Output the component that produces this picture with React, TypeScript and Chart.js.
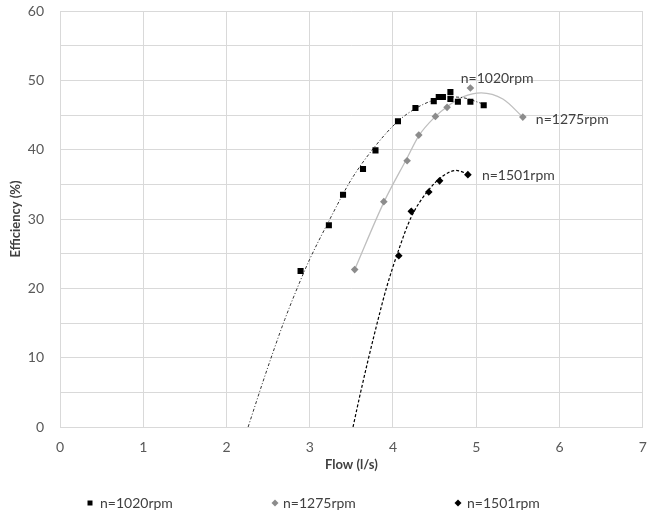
import React, { useEffect, useRef } from "react";
import { Chart, registerables } from "chart.js";

Chart.register(...registerables);

// Measured points
const series1020X = [2.89, 3.23, 3.40, 3.64, 3.79, 4.06, 4.27, 4.49, 4.55, 4.60, 4.69, 4.69, 4.78, 4.93, 5.09];
const series1020Y = [22.5, 29.1, 33.5, 37.2, 39.9, 44.1, 46.0, 47.0, 47.6, 47.6, 48.3, 47.3, 46.9, 46.9, 46.4];
const series1275X = [3.54, 3.89, 4.17, 4.31, 4.51, 4.65, 4.93, 5.56];
const series1275Y = [22.7, 32.5, 38.4, 42.1, 44.8, 46.1, 48.9, 44.7];
const series1501X = [4.07, 4.22, 4.43, 4.56, 4.90];
const series1501Y = [24.7, 31.1, 33.9, 35.5, 36.4];

// Trend curves
const trend1020X = [2.26, 2.44, 2.58, 2.70, 2.88, 3.00, 3.23, 3.50, 3.80, 4.06, 4.28, 4.48, 4.68, 4.84, 5.08];
const trend1020Y = [0, 6.6, 11.5, 15.5, 20.9, 24.2, 29.7, 35.7, 40.7, 44.1, 46.0, 47.1, 47.6, 47.5, 46.6];
const trend1275X = [3.54, 3.89, 4.17, 4.31, 4.51, 4.65, 4.84, 5.06, 5.32, 5.56];
const trend1275Y = [22.7, 32.4, 38.8, 42.0, 44.8, 46.2, 47.6, 48.2, 47.3, 44.7];
const trend1501X = [3.52, 3.60, 3.70, 3.84, 3.92, 4.07, 4.22, 4.43, 4.60, 4.76, 4.90];
const trend1501Y = [0, 4.4, 9.6, 16.4, 20.0, 25.6, 30.3, 34.2, 36.2, 37.0, 36.5];

const seriesNames = ["n=1020rpm", "n=1275rpm", "n=1501rpm"];
const xTitle = "Flow (l/s)";
const yTitle = "Efficiency (%)";

const FONT = "Lato, 'Open Sans', sans-serif";

const pts = (xs: number[], ys: number[]) => xs.map((x, i) => ({ x, y: ys[i] }));

const labelPlugin = {
  id: "seriesLabels",
  afterDatasetsDraw(chart: any) {
    const ctx = chart.ctx;
    const offsets = [
      [-23, -27],
      [13, 2],
      [14, 1],
    ];
    ctx.save();
    ctx.font = `14px ${FONT}`;
    ctx.fillStyle = "#404040";
    ctx.textAlign = "left";
    ctx.textBaseline = "middle";
    for (let i = 0; i < 3; i++) {
      const meta = chart.getDatasetMeta(i);
      const last = meta.data[meta.data.length - 1];
      ctx.fillText(seriesNames[i], last.x + offsets[i][0], last.y + offsets[i][1]);
    }
    ctx.restore();
  },
};

const legendPlugin = {
  id: "bottomLegend",
  afterDraw(chart: any) {
    const ctx = chart.ctx;
    const y = 503;
    const items = [
      { mx: 90, tx: 100, shape: "square", color: "#000000" },
      { mx: 275, tx: 283, shape: "diamond", color: "#8c8c8c" },
      { mx: 458, tx: 467, shape: "diamond", color: "#000000" },
    ];
    ctx.save();
    ctx.font = `14px ${FONT}`;
    ctx.textBaseline = "middle";
    ctx.textAlign = "left";
    items.forEach((it, i) => {
      ctx.fillStyle = it.color;
      ctx.beginPath();
      if (it.shape === "square") {
        ctx.rect(it.mx - 2.5, y - 2.5, 5, 5);
      } else {
        ctx.moveTo(it.mx - 3.5, y);
        ctx.lineTo(it.mx, y - 3.5);
        ctx.lineTo(it.mx + 3.5, y);
        ctx.lineTo(it.mx, y + 3.5);
        ctx.closePath();
      }
      ctx.fill();
      ctx.fillStyle = "#404040";
      ctx.fillText(seriesNames[i], it.tx, y);
    });
    ctx.restore();
  },
};

export default function App() {
  const ref = useRef<HTMLCanvasElement | null>(null);

  useEffect(() => {
    document.body.style.margin = "0";
    const canvas = ref.current;
    if (!canvas) return;
    const chart = new Chart(canvas, {
      type: "scatter",
      data: {
        datasets: [
          {
            label: seriesNames[0],
            data: pts(series1020X, series1020Y),
            pointStyle: "rect",
            pointRadius: 4.3,
            backgroundColor: "#000000",
            borderColor: "#000000",
            borderWidth: 0,
            showLine: false,
          },
          {
            label: seriesNames[1],
            data: pts(series1275X, series1275Y),
            pointStyle: "rectRot",
            pointRadius: 3.8,
            backgroundColor: "#8c8c8c",
            borderColor: "#8c8c8c",
            borderWidth: 0,
            showLine: false,
          },
          {
            label: seriesNames[2],
            data: pts(series1501X, series1501Y),
            pointStyle: "rectRot",
            pointRadius: 3.8,
            backgroundColor: "#000000",
            borderColor: "#000000",
            borderWidth: 0,
            showLine: false,
          },
          {
            label: "trend 1020",
            data: pts(trend1020X, trend1020Y),
            showLine: true,
            pointRadius: 0,
            borderColor: "#333333",
            borderWidth: 1,
            borderDash: [3, 2, 1, 2],
            cubicInterpolationMode: "monotone",
            fill: false,
          },
          {
            label: "trend 1275",
            data: pts(trend1275X, trend1275Y),
            showLine: true,
            pointRadius: 0,
            borderColor: "#bfbfbf",
            borderWidth: 1.3,
            cubicInterpolationMode: "monotone",
            fill: false,
          },
          {
            label: "trend 1501",
            data: pts(trend1501X, trend1501Y),
            showLine: true,
            pointRadius: 0,
            borderColor: "#000000",
            borderWidth: 1.2,
            borderDash: [3, 2],
            cubicInterpolationMode: "monotone",
            fill: false,
          },
        ],
      },
      options: {
        responsive: false,
        animation: false,
        devicePixelRatio: 1,
        layout: { padding: { top: 11, right: 4, left: 0, bottom: 35 } },
        plugins: {
          legend: { display: false },
          tooltip: { enabled: false },
        },
        scales: {
          x: {
            type: "linear",
            min: 0,
            max: 7,
            ticks: {
              stepSize: 1,
              padding: 0,
              color: "#595959",
              font: { family: FONT, size: 14 },
            },
            grid: {
              color: "#d9d9d9",
              lineWidth: 1,
              drawTicks: true,
              tickLength: 12,
              tickColor: "rgba(0,0,0,0)",
            },
            border: { color: "#d9d9d9" },
            title: {
              display: true,
              text: xTitle,
              color: "#404040",
              font: { family: FONT, size: 13, weight: "bold" },
              padding: { top: 0, bottom: 3 },
            },
            afterFit(scale: any) {
              scale.height = 49;
            },
          },
          y: {
            type: "linear",
            min: 0,
            max: 60,
            ticks: {
              stepSize: 5,
              padding: 1,
              color: "#595959",
              font: { family: FONT, size: 14 },
              callback: (v: any) => (Number(v) % 10 === 0 ? String(v) : ""),
            },
            grid: {
              color: "#d9d9d9",
              lineWidth: 1,
              drawTicks: true,
              tickLength: 15,
              tickColor: "rgba(0,0,0,0)",
            },
            border: { color: "#d9d9d9" },
            title: {
              display: true,
              text: yTitle,
              color: "#404040",
              font: { family: FONT, size: 13, weight: "bold" },
              padding: { top: 8, bottom: 0 },
            },
            afterFit(scale: any) {
              scale.width = 60;
            },
          },
        },
      },
      plugins: [labelPlugin, legendPlugin],
    } as any);
    return () => chart.destroy();
  }, []);

  return (
    <div style={{ width: 647, height: 511, background: "#ffffff" }}>
      <canvas ref={ref} width={647} height={511} style={{ display: "block" }} />
    </div>
  );
}
